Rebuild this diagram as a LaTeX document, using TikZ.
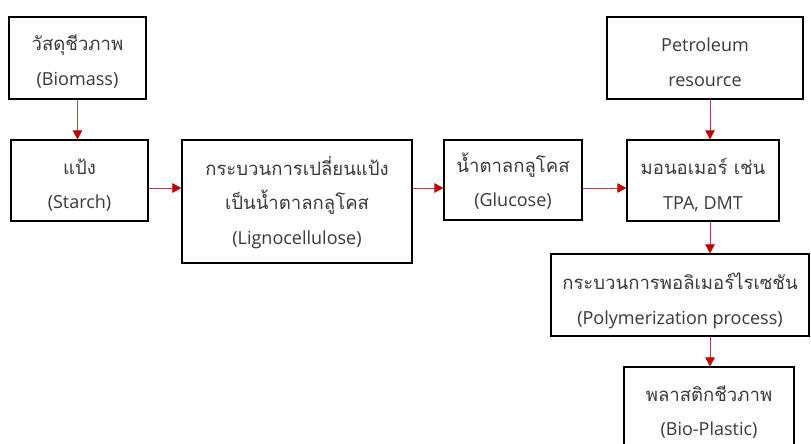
\documentclass[tikz,border=0pt]{standalone}
\usepackage{fontspec}
\setmainfont{Open Sans}
\newfontfamily\thaifont[Script=Thai,Scale=1.03]{Loma}
\usetikzlibrary{arrows.meta}
\definecolor{txt}{HTML}{3A3A3A}
\definecolor{lnred}{HTML}{A84848}
\definecolor{tipred}{HTML}{C00000}
\begin{document}
\begin{tikzpicture}[x=1pt,y=-1pt,
  box/.style={draw=black,line width=1.3pt,fill=white,inner sep=0pt},
  lab/.style={align=center,text=txt,inner sep=0pt,font=\fontsize{18}{34.5}\selectfont},
  conn/.style={draw=lnred,line width=0.9pt,
    -{Triangle[length=9pt,width=9.5pt,color=tipred,fill=tipred]}}]
\clip (0,0) rectangle (811,444);
\fill[white] (0,0) rectangle (811,444);
% boxes
\node[box,minimum width=137pt,minimum height=82pt] (bio) at (77.5,58) {};
\node[box,minimum width=137pt,minimum height=81pt] (starch) at (79.5,180.5) {};
\node[box,minimum width=230pt,minimum height=123pt] (ligno) at (297,201.5) {};
\node[box,minimum width=138pt,minimum height=80pt] (gluc) at (513,180) {};
\node[box,minimum width=196pt,minimum height=82pt] (petro) at (705,58) {};
\node[box,minimum width=152pt,minimum height=81pt] (mono) at (703,180.5) {};
\node[box,minimum width=258pt,minimum height=82pt] (poly) at (680,295) {};
\node[box,minimum width=170pt,minimum height=84pt] (bp) at (709,409) {};
% texts
\node[lab] (biot) at ([yshift=-3.5pt]bio.center) {{\thaifont วัสดุชีวภาพ}\\(Biomass)};
\node[lab] (starcht) at ([yshift=-4.5pt]starch.center) {{\thaifont แป้ง}\\(Starch)};
\node[lab] (lignot) at ([yshift=-1pt]ligno.center)
  {{\thaifont กระบวนการเปลี่ยนแป้ง}\\{\thaifont เป็นน้ำตาลกลูโคส}\\(Lignocellulose)};
\node[lab] (gluct) at ([yshift=-1pt]gluc.center) {{\thaifont น้ำตาลกลูโคส}\\(Glucose)};
\node[lab] (petrot) at ([yshift=-4pt]petro.center) {Petroleum\\resource};
\node[lab] (monot) at ([yshift=-4.5pt]mono.center) {{\thaifont มอนอเมอร์ เช่น}\\TPA, DMT};
\node[lab] (polyt) at ([yshift=-6pt]poly.center)
  {{\thaifont กระบวนการพอลิเมอร์ไรเซชัน}\\(Polymerization process)};
\node[lab] (bpt) at ([yshift=-3pt]bp.center) {{\thaifont พลาสติกชีวภาพ}\\(Bio-Plastic)};
% connectors
\coordinate (row) at (0,188);
\coordinate (col) at (710,0);
\draw[conn] (bio.south) -- (starch.north -| bio.south);
\draw[conn] (starch.east |- row) -- (ligno.west |- row);
\draw[conn] (ligno.east |- row) -- (gluc.west |- row);
\draw[conn] (gluc.east |- row) -- (mono.west |- row);
\draw[conn] (petro.south -| col) -- (mono.north -| col);
\draw[conn] (mono.south -| col) -- (poly.north -| col);
\draw[conn] (poly.south -| col) -- (bp.north -| col);
\end{tikzpicture}
\end{document}
